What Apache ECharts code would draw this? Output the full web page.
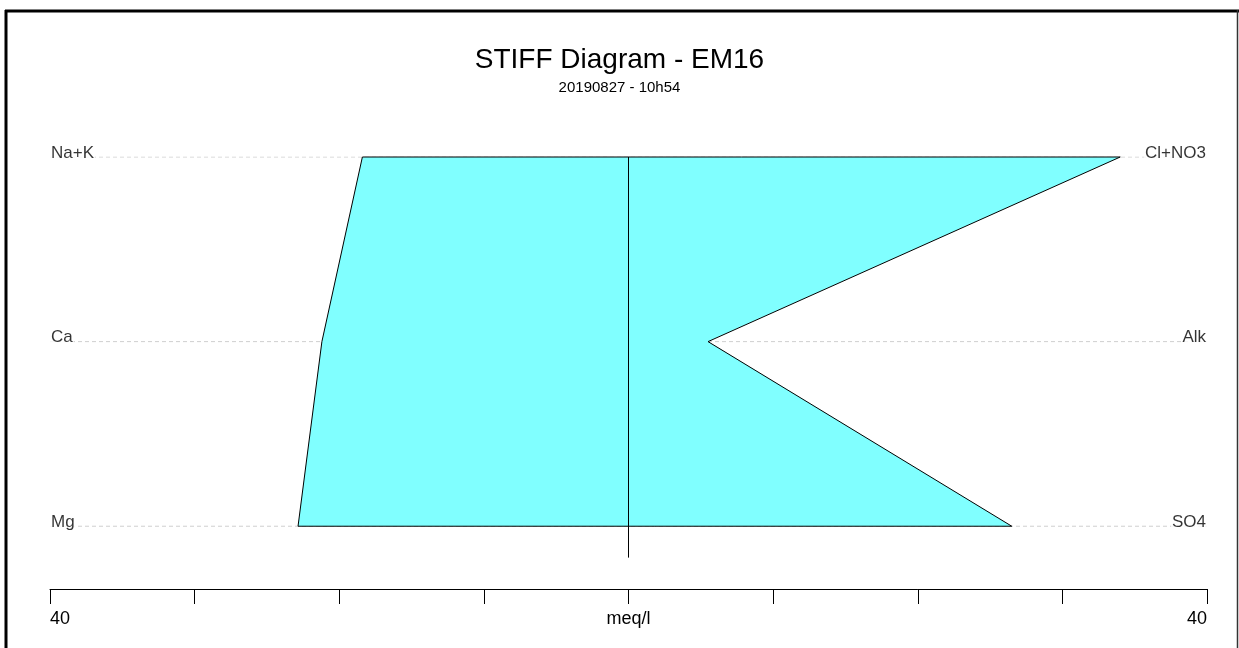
<!DOCTYPE html>
<html>
<head>
<meta charset="utf-8">
<script src="https://cdn.jsdelivr.net/npm/echarts@6/dist/echarts.min.js"></script>
<style>
html,body{margin:0;padding:0;background:#fff;}
#chart{width:1239px;height:648px;}
</style>
</head>
<body>
<div id="chart"></div>
<script>
// ---- data ----
const cations = ['Na+K', 'Ca', 'Mg'];
const cationValues = [18.4, 21.2, 22.85];     // meq/l (drawn to the left)
const anions = ['Cl+NO3', 'Alk', 'SO4'];
const anionValues = [34.0, 5.5, 26.5];        // meq/l (drawn to the right)
const rowLevels = [3, 2, 1];                  // vertical position of each row
const axisTicks = [-40, -30, -20, -10, 0, 10, 20, 30, 40];
const axisMax = 40;
const centerLineBottom = 0.83;
const titleText = 'STIFF Diagram - EM16';
const subtitleText = '20190827 - 10h54';
const unitLabel = 'meq/l';

const FONT = '"Liberation Sans", Arial, Helvetica, sans-serif';
const chart = echarts.init(document.getElementById('chart'), null, {renderer: 'canvas'});

// polygon vertices: cations top->bottom on the left, anions bottom->top on the right
const polyData = [];
for (let i = 0; i < cations.length; i++) polyData.push([-cationValues[i], rowLevels[i]]);
for (let i = anions.length - 1; i >= 0; i--) polyData.push([anionValues[i], rowLevels[i]]);

const dashSeries = rowLevels.map(y => ({
  type: 'line', silent: true, symbol: 'none', z: 1,
  data: [[-axisMax, y], [axisMax, y]],
  lineStyle: {color: '#cfcfcf', width: 1, type: [4, 3]}
}));

const labelStyle = {
  show: true, position: 'inside', fontFamily: FONT, fontSize: 17, color: '#000',
  verticalAlign: 'middle', offset: [0, -4], backgroundColor: '#fff', padding: [0, 1]
};

chart.setOption({
  animation: false,
  backgroundColor: '#fff',
  title: {
    text: titleText, subtext: subtitleText, left: 'center', top: 41, itemGap: 6,
    textStyle: {fontFamily: FONT, fontSize: 28, fontWeight: 'normal', color: '#000'},
    subtextStyle: {fontFamily: FONT, fontSize: 15, color: '#000'}
  },
  grid: {left: 50, right: 32, top: 157, bottom: 59},
  xAxis: {
    type: 'value', min: -axisMax, max: axisMax, interval: 10,
    axisLine: {show: true, onZero: false, lineStyle: {color: '#000', width: 1}},
    axisTick: {show: true, length: 15, lineStyle: {color: '#000', width: 1}},
    splitLine: {show: false},
    axisLabel: {
      show: true, margin: 21, fontFamily: FONT, fontSize: 18, color: '#000',
      alignMinLabel: 'left', alignMaxLabel: 'right',
      formatter: v => (v === -axisMax || v === axisMax) ? String(axisMax) : (v === 0 ? unitLabel : '')
    }
  },
  yAxis: {type: 'value', min: 0.66, max: 3, show: false},
  series: [
    ...dashSeries,
    {
      type: 'custom', z: 3, silent: true,
      data: [0],
      renderItem: (params, api) => {
        const pts = polyData.map(p => api.coord(p));
        return {
          type: 'polygon',
          shape: {points: pts},
          style: {fill: '#80FFFF', stroke: '#000', lineWidth: 1}
        };
      }
    },
    {
      type: 'line', z: 4, silent: true, symbol: 'none',
      data: [[0, rowLevels[0]], [0, centerLineBottom]],
      lineStyle: {color: '#000', width: 1}
    },
    {
      type: 'scatter', z: 5, silent: true, symbolSize: 0,
      data: cations.map((c, i) => ({value: [-axisMax, rowLevels[i]], name: c})),
      label: Object.assign({}, labelStyle, {align: 'left', formatter: p => p.name})
    },
    {
      type: 'scatter', z: 5, silent: true, symbolSize: 0,
      data: anions.map((a, i) => ({value: [axisMax, rowLevels[i]], name: a})),
      label: Object.assign({}, labelStyle, {align: 'right', formatter: p => p.name})
    }
  ],
  graphic: [
    {type: 'line', shape: {x1: 5, y1: 11, x2: 1239, y2: 11}, style: {stroke: '#000', lineWidth: 3}},
    {type: 'line', shape: {x1: 6, y1: 10, x2: 6, y2: 648}, style: {stroke: '#000', lineWidth: 3}},
    {type: 'line', shape: {x1: 1237.5, y1: 10, x2: 1237.5, y2: 648}, style: {stroke: '#333', lineWidth: 1.5}}
  ]
});
</script>
</body>
</html>
